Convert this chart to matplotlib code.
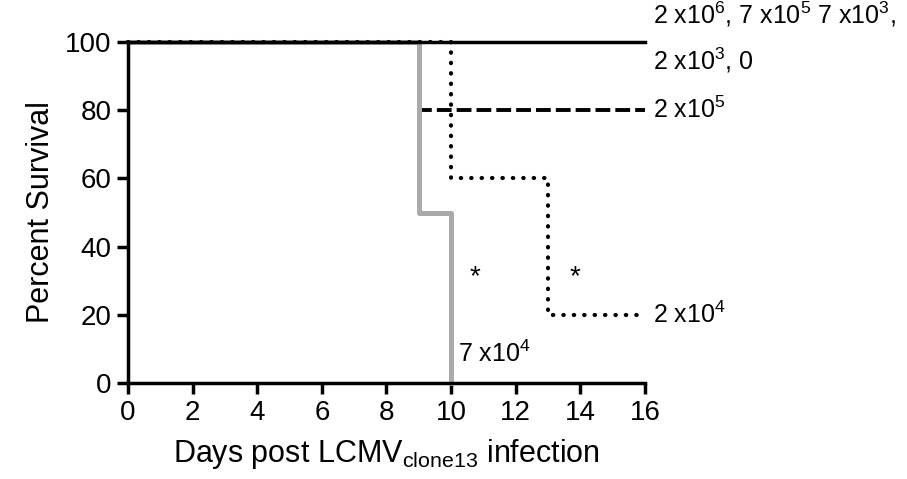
import matplotlib
matplotlib.use("Agg")
import matplotlib.pyplot as plt

plt.rcParams['font.family'] = ['Liberation Sans', 'DejaVu Sans']

# Survival step data (days, percent)
days_solid = [0, 16]
surv_solid = [100, 100]
days_dash = [0, 9, 16]
surv_dash = [100, 80, 80]
days_dot = [0, 10, 13, 16]
surv_dot = [100, 60, 20, 20]
days_grey = [0, 9, 10]
surv_grey = [100, 50, 0]

xticks = list(range(0, 17, 2))
yticks = [0, 20, 40, 60, 80, 100]

fig = plt.figure(figsize=(9.07, 4.79), dpi=100)
ax = fig.add_axes([0.1411, 0.2004, 0.5700, 0.7119])

ax.step(days_dash, surv_dash, where='post', color='black', lw=2.8, ls=(0, (3.8, 1.3)), zorder=2, clip_on=False)
ax.step(days_grey, surv_grey, where='post', color='#aaaaaa', lw=3.6, zorder=3, clip_on=False)
ax.step(days_solid, surv_solid, where='post', color='black', lw=2.5, zorder=4, clip_on=False)
ax.step(days_dot, surv_dot, where='post', color='black', lw=3, ls=(0, (0.1, 2.4)),
        dash_capstyle='round', solid_capstyle='round', zorder=5, clip_on=False)

ax.set_xlim(0, 16)
ax.set_ylim(0, 100)
ax.set_xticks(xticks)
ax.set_yticks(yticks)
for s in ['top', 'right']:
    ax.spines[s].set_visible(False)
for s in ['left', 'bottom']:
    ax.spines[s].set_linewidth(2.5)
    ax.spines[s].set_zorder(6)
ax.tick_params(width=2.5, length=8, labelsize=20, pad=4)

ax.set_ylabel('Percent Survival', fontsize=22, labelpad=6)
ax.set_xlabel(r'Days post LCMV$_{\mathregular{clone13}}$ infection', fontsize=22, labelpad=8)

kw = dict(fontsize=18, va='center', ha='left', clip_on=False)
ax.text(16.25, 108, r'2 x10$^{\mathregular{6}}$, 7 x10$^{\mathregular{5}}$ 7 x10$^{\mathregular{3}}$,', **kw)
ax.text(16.25, 94.5, r'2 x10$^{\mathregular{3}}$, 0', **kw)
ax.text(16.25, 80, r'2 x10$^{\mathregular{5}}$', **kw)
ax.text(16.25, 20, r'2 x10$^{\mathregular{4}}$', **kw)
ax.text(10.2, 8.5, r'7 x10$^{\mathregular{4}}$', **kw)
ax.text(10.74, 31, '*', fontsize=20, ha='center', va='center')
ax.text(13.84, 31, '*', fontsize=20, ha='center', va='center')

fig.savefig('out.png', dpi=100)
